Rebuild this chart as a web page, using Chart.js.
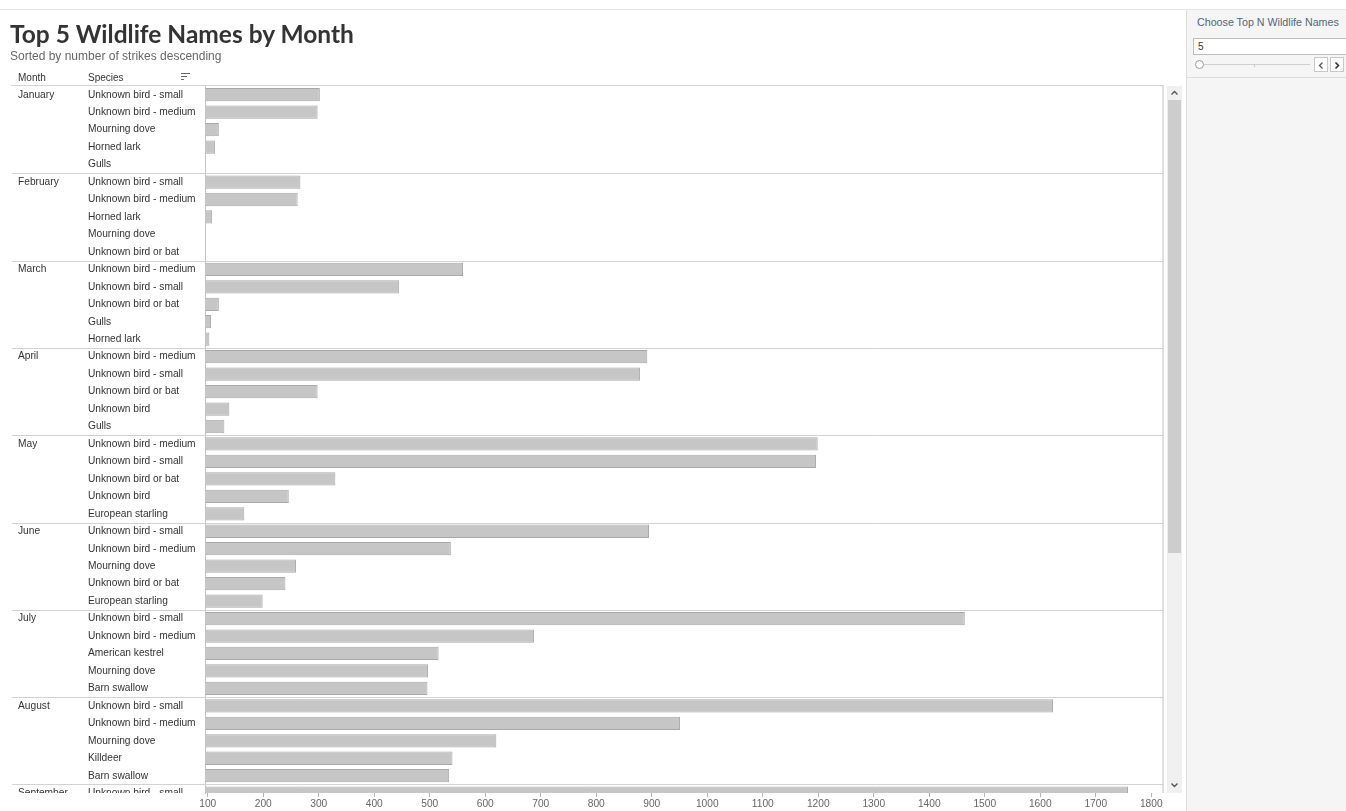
<!DOCTYPE html>
<html>
<head>
<meta charset="utf-8">
<script src="https://cdn.jsdelivr.net/npm/chart.js@4"></script>
<style>
  body { margin: 0; width: 1346px; height: 811px; overflow: hidden; background: #fff; position: relative;
         font-family: "Liberation Sans", Arial, sans-serif; color: #333; }
  .abs { position: absolute; white-space: nowrap; }
  #title { left: 10px; top: 19px; line-height: 26px; font: bold 24.5px Lato, sans-serif; color: #333; }
  #subtitle { left: 10px; top: 48px; line-height: 16px; font-size: 12px; color: #666; }
  .hdr { top: 70px; line-height: 15px; font-size: 10px; color: #333; }
  #topline { left: 0; top: 9px; width: 1346px; height: 1px; background: #e4e4e4; }
  #panel { left: 1186px; top: 10px; width: 160px; height: 801px; background: #f5f5f5; border-left: 1px solid #dcdcdc; }
  #ctrl { left: 1186px; top: 10px; width: 160px; height: 67px; border-bottom: 1px solid #dcdcdc; }
  #ptitle { left: 1197px; top: 15px; line-height: 14px; font-size: 10.7px; color: #52657a; }
  #inp { left: 1193px; top: 38px; width: 148px; height: 15px; background: #fff; border: 1px solid #bdbdbd;
         font-size: 10px; line-height: 15px; padding-left: 4px; }
  #track { left: 1204px; top: 64px; width: 106px; height: 1px; background: #d0d0d0; }
  #knob { left: 1195px; top: 60px; width: 7px; height: 7px; border: 1px solid #9a9a9a; border-radius: 50%; background: #fff; }
  .btn { top: 57px; width: 12px; height: 13px; border: 1px solid #c8c8c8; background: #fff; }
  #sbar { left: 1167px; top: 86px; width: 15px; height: 707px; background: #f0f0f0; }
  #thumb { left: 1168px; top: 100px; width: 13px; height: 453px; background: #cdcdcd; }
  #wrap { left: 0; top: 0; width: 1190px; height: 811px; }
</style>
</head>
<body>
<div id="topline" class="abs"></div>
<div id="panel" class="abs"></div>
<div id="ctrl" class="abs"></div>
<div id="ptitle" class="abs">Choose Top N Wildlife Names</div>
<div id="inp" class="abs">5</div>
<div id="track" class="abs"></div>
<div class="abs" style="left:1254px;top:64px;width:1px;height:3px;background:#c8c8c8"></div>
<div id="knob" class="abs"></div>
<div class="abs btn" style="left:1314px"><svg width="12" height="13"><polyline points="7.5,3.5 4.5,6.5 7.5,9.5" fill="none" stroke="#555" stroke-width="1.3"/></svg></div>
<div class="abs btn" style="left:1330px"><svg width="12" height="13"><polyline points="4.5,3.5 7.5,6.5 4.5,9.5" fill="none" stroke="#333" stroke-width="1.6"/></svg></div>
<div id="sbar" class="abs"></div>
<div id="thumb" class="abs"></div>
<svg class="abs" style="left:1168px;top:88px" width="13" height="10"><polyline points="3.5,6.5 6.5,3.5 9.5,6.5" fill="none" stroke="#555" stroke-width="1.4"/></svg>
<svg class="abs" style="left:1168px;top:780px" width="13" height="10"><polyline points="3.5,3.5 6.5,6.5 9.5,3.5" fill="none" stroke="#555" stroke-width="1.4"/></svg>

<div id="wrap" class="abs"><canvas id="chart" width="1190" height="811"></canvas></div>

<div id="title" class="abs">Top 5 Wildlife Names by Month</div>
<div id="subtitle" class="abs">Sorted by number of strikes descending</div>
<div class="abs hdr" style="left:18px">Month</div>
<div class="abs hdr" style="left:88px">Species</div>
<svg class="abs" style="left:180px;top:72px" width="12" height="10">
  <line x1="1" y1="1.5" x2="10" y2="1.5" stroke="#666"/>
  <line x1="1" y1="4.5" x2="7" y2="4.5" stroke="#666"/>
  <line x1="1" y1="7.5" x2="4" y2="7.5" stroke="#666"/>
</svg>

<script>
const months = ['January', 'February', 'March', 'April', 'May', 'June', 'July', 'August', 'September'];

const species = [
  'Unknown bird - small', 'Unknown bird - medium', 'Mourning dove', 'Horned lark', 'Gulls',
  'Unknown bird - small', 'Unknown bird - medium', 'Horned lark', 'Mourning dove', 'Unknown bird or bat',
  'Unknown bird - medium', 'Unknown bird - small', 'Unknown bird or bat', 'Gulls', 'Horned lark',
  'Unknown bird - medium', 'Unknown bird - small', 'Unknown bird or bat', 'Unknown bird', 'Gulls',
  'Unknown bird - medium', 'Unknown bird - small', 'Unknown bird or bat', 'Unknown bird', 'European starling',
  'Unknown bird - small', 'Unknown bird - medium', 'Mourning dove', 'Unknown bird or bat', 'European starling',
  'Unknown bird - small', 'Unknown bird - medium', 'American kestrel', 'Mourning dove', 'Barn swallow',
  'Unknown bird - small', 'Unknown bird - medium', 'Mourning dove', 'Killdeer', 'Barn swallow',
  'Unknown bird - small'
];

const strikes = [
  302, 298, 120, 113, 90,
  267, 262, 108, 94, 92,
  560, 445, 120, 106, 103,
  892, 879, 298, 139, 130,
  1199, 1196, 330, 246, 166,
  895, 538, 259, 240, 199,
  1464, 688, 516, 497, 496,
  1623, 951, 620, 541, 535,
  1758
];

const xTicks = [100, 200, 300, 400, 500, 600, 700, 800, 900, 1000, 1100, 1200, 1300, 1400, 1500, 1600, 1700, 1800];
const xMin = 96, xMax = 1822;

const rowsPerMonth = 5;
const font = { family: '"Liberation Sans", Arial, sans-serif', size: 10.2 };

// separators between months, the frame and the clipped row under the scroll edge
const frame = {
    id: 'frame',
    afterDatasetsDraw(chart) {
        let ctx = chart.ctx, a = chart.chartArea, y = chart.scales.y;
        ctx.save();
        ctx.lineWidth = 1;
        ctx.strokeStyle = '#d2d2d2';
        ctx.beginPath();
        ctx.moveTo(11, Math.round(a.top) - 0.5);
        ctx.lineTo(a.right, Math.round(a.top) - 0.5);
        for (let k = 1; k < months.length; ++k) {
            let py = Math.round(y.getPixelForValue(k * rowsPerMonth - 0.5)) + 0.5;
            ctx.moveTo(12, py);
            ctx.lineTo(a.right, py);
        }
        ctx.stroke();
        ctx.strokeStyle = '#c4c4c4';
        ctx.beginPath();
        ctx.moveTo(a.right - 0.5, a.top - 1);
        ctx.lineTo(a.right - 0.5, a.bottom);
        ctx.stroke();
        ctx.restore();
    },
    afterDraw(chart) {
        let a = chart.chartArea;
        chart.ctx.clearRect(0, a.bottom, a.left - 6, chart.height - a.bottom);
    }
};

new Chart(document.getElementById('chart'), {
    type: 'bar',
    data: {
        datasets: [{
            data: strikes.map((v, i) => ({ x: v, y: i })),
            xAxisID: 'x',
            yAxisID: 'y',
            backgroundColor: '#c6c6c6',
            borderColor: '#a8a8a8',
            borderWidth: 1,
            barPercentage: 0.95,
            categoryPercentage: 0.8
        }]
    },
    plugins: [frame],
    options: {
        indexAxis: 'y',
        responsive: false,
        animation: false,
        events: [],
        layout: { padding: { left: 18, top: 86, right: 26.5, bottom: 0 } },
        plugins: { legend: { display: false }, tooltip: { enabled: false } },
        scales: {
            x: {
                type: 'linear',
                position: 'bottom',
                min: xMin,
                max: xMax,
                afterBuildTicks: s => { s.ticks = xTicks.map(v => ({ value: v })); },
                afterFit: s => { s.height = 18; },
                ticks: { autoSkip: false, maxRotation: 0, padding: 1, color: '#666', font: font,
                         callback: v => String(v) },
                grid: { drawOnChartArea: false, drawTicks: true, tickLength: 4, color: '#b4b4b4' },
                border: { display: false }
            },
            y: {
                type: 'linear',
                position: 'left',
                weight: 0,
                reverse: true,
                offset: false,
                min: -0.5,
                max: 39.99,
                afterBuildTicks: s => { s.ticks = species.map((n, i) => ({ value: i })); },
                afterFit: s => { s.width = 117.5; },
                ticks: { autoSkip: false, crossAlign: 'far', padding: 0, color: '#333', font: font,
                         callback: v => species[v] },
                grid: { display: false },
                border: { display: true, color: '#c4c4c4' }
            },
            ym: {
                type: 'linear',
                position: 'left',
                weight: 1,
                reverse: true,
                offset: false,
                min: -0.5,
                max: 39.99,
                afterBuildTicks: s => { s.ticks = months.map((m, k) => ({ value: k * rowsPerMonth })); },
                afterFit: s => { s.width = 70; },
                ticks: { autoSkip: false, crossAlign: 'far', padding: 0, color: '#333', font: font,
                         callback: v => months[v / rowsPerMonth] },
                grid: { display: false },
                border: { display: false }
            }
        }
    }
});
</script>
</body>
</html>
